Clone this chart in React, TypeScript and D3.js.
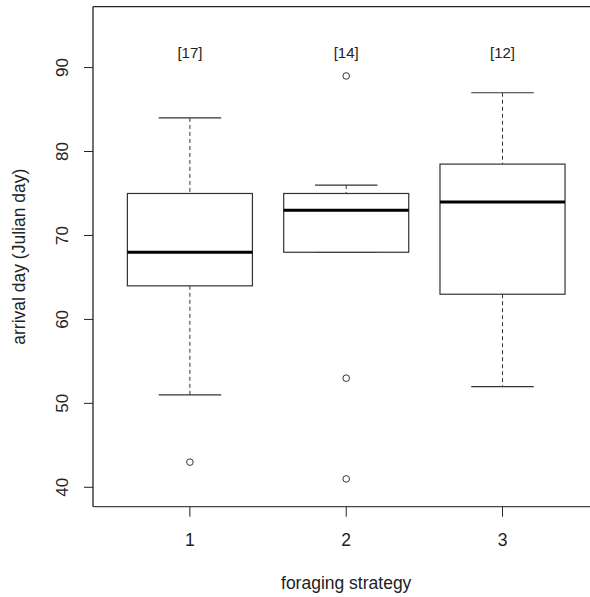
import React from "react";
import * as d3 from "d3";

const groups = ["1", "2", "3"];
const counts = ["[17]", "[14]", "[12]"];
const lowerWhisker = [51, 68, 52];
const q1 = [64, 68, 63];
const median = [68, 73, 74];
const q3 = [75, 75, 78.5];
const upperWhisker = [84, 76, 87];
const outliers = [[43], [89, 53, 41], []];
const yTicks = [40, 50, 60, 70, 80, 90];

export default function App() {
  const W = 590, H = 597;
  const left = 93, top = 6.7, bottom = 506.7;
  const x = d3.scaleLinear().domain([0.38, 3.62]).range([left, left + 156.3 * 3.24]);
  const y = d3.scaleLinear().domain([37.69, 97.25]).range([bottom, top]);
  const bw = x(1.4) - x(1); // half box width (0.4 units)
  const cap = bw / 2;
  const lineCol = "#333";
  const font = "'Liberation Sans', Arial, sans-serif";
  return (
    <svg width={W} height={H} style={{ position: "absolute", left: 0, top: 0 }} fontFamily={font}>
      <rect width={W} height={H} fill="#fff" />
      {/* frame */}
      <line x1={left} x2={W + 10} y1={top} y2={top} stroke="#222" strokeWidth={1.3} />
      <line x1={left} x2={W + 10} y1={bottom} y2={bottom} stroke="#444" strokeWidth={1.3} />
      <line x1={left} x2={left} y1={top} y2={bottom} stroke="#222" strokeWidth={1.3} />
      {/* y axis */}
      {yTicks.map((t) => (
        <g key={t}>
          <line x1={left - 9} x2={left} y1={y(t)} y2={y(t)} stroke="#222" strokeWidth={1} />
          <text
            transform={`translate(${62},${y(t)}) rotate(-90)`}
            textAnchor="middle"
            dominantBaseline="central"
            fontSize={17}
            fill="#222"
          >
            {t}
          </text>
        </g>
      ))}
      {/* x axis */}
      {groups.map((g, i) => (
        <g key={g}>
          <line x1={x(i + 1)} x2={x(i + 1)} y1={bottom} y2={bottom + 10} stroke="#222" strokeWidth={1} />
          <text x={x(i + 1)} y={540} textAnchor="middle" dominantBaseline="central" fontSize={17.5} fill="#222">
            {g}
          </text>
        </g>
      ))}
      <text x={x(2)} y={583} textAnchor="middle" dominantBaseline="central" fontSize={17.5} fill="#222">
        foraging strategy
      </text>
      <text
        transform={`translate(19,${(top + bottom) / 2}) rotate(-90)`}
        textAnchor="middle"
        dominantBaseline="central"
        fontSize={17.5}
        fill="#222"
      >
        arrival day (Julian day)
      </text>
      {/* boxes */}
      {groups.map((g, i) => {
        const cx = x(i + 1);
        return (
          <g key={"b" + g}>
            <line x1={cx} x2={cx} y1={y(upperWhisker[i])} y2={y(q3[i])} stroke={lineCol} strokeDasharray="4,3" />
            <line x1={cx} x2={cx} y1={y(q1[i])} y2={y(lowerWhisker[i])} stroke={lineCol} strokeDasharray="4,3" />
            <line x1={cx - cap} x2={cx + cap} y1={y(upperWhisker[i])} y2={y(upperWhisker[i])} stroke={lineCol} strokeWidth={1.2} />
            <line x1={cx - cap} x2={cx + cap} y1={y(lowerWhisker[i])} y2={y(lowerWhisker[i])} stroke={lineCol} strokeWidth={1.2} />
            <rect
              x={cx - bw}
              y={y(q3[i])}
              width={2 * bw}
              height={y(q1[i]) - y(q3[i])}
              fill="#fff"
              stroke={lineCol}
              strokeWidth={1.2}
            />
            <line x1={cx - bw} x2={cx + bw} y1={y(median[i])} y2={y(median[i])} stroke="#000" strokeWidth={3} />
            {outliers[i].map((o, k) => (
              <circle key={k} cx={cx} cy={y(o)} r={3.3} fill="none" stroke={lineCol} strokeWidth={1} />
            ))}
            <text x={cx} y={52} textAnchor="middle" dominantBaseline="central" fontSize={15} fill="#222">
              {counts[i]}
            </text>
          </g>
        );
      })}
    </svg>
  );
}
